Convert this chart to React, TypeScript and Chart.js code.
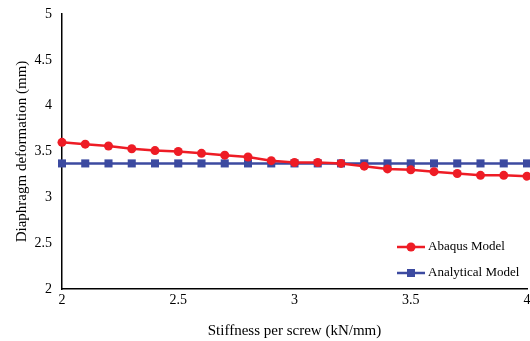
import React, { useEffect, useRef } from "react";
import { Chart, registerables } from "chart.js";

Chart.register(...registerables);

const stiffness = [2.0, 2.1, 2.2, 2.3, 2.4, 2.5, 2.6, 2.7, 2.8, 2.9, 3.0, 3.1, 3.2, 3.3, 3.4, 3.5, 3.6, 3.7, 3.8, 3.9, 4.0];
const abaqus = [3.6, 3.58, 3.56, 3.53, 3.51, 3.5, 3.48, 3.46, 3.44, 3.4, 3.38, 3.38, 3.37, 3.34, 3.31, 3.3, 3.28, 3.26, 3.24, 3.24, 3.23];
const analytical = [3.37, 3.37, 3.37, 3.37, 3.37, 3.37, 3.37, 3.37, 3.37, 3.37, 3.37, 3.37, 3.37, 3.37, 3.37, 3.37, 3.37, 3.37, 3.37, 3.37, 3.37];
const seriesNames = ["Abaqus Model", "Analytical Model"];
const xTitle = "Stiffness per screw (kN/mm)";
const yTitle = "Diaphragm deformation (mm)";

const RED = "#EE1C25";
const BLUE = "#3C4AA0";
const FONT = "'Liberation Serif', 'Times New Roman', serif";

const fmt = (v: any) => String(Math.round(Number(v) * 10) / 10);

const legendPlugin = {
  id: "insideLegend",
  afterDraw(chart: any) {
    const ctx = chart.ctx;
    const area = chart.chartArea;
    const items = [
      { label: seriesNames[0], color: RED, style: "circle" },
      { label: seriesNames[1], color: BLUE, style: "rect" },
    ];
    ctx.save();
    ctx.font = `13px ${FONT}`;
    ctx.textBaseline = "middle";
    ctx.textAlign = "left";
    const x0 = area.left + 335;
    items.forEach((it, i) => {
      const y = area.top + 233 + i * 26;
      ctx.strokeStyle = it.color;
      ctx.lineWidth = 2.5;
      ctx.beginPath();
      ctx.moveTo(x0, y);
      ctx.lineTo(x0 + 28, y);
      ctx.stroke();
      ctx.fillStyle = it.color;
      ctx.beginPath();
      if (it.style === "circle") {
        ctx.arc(x0 + 14, y, 4.5, 0, Math.PI * 2);
      } else {
        ctx.rect(x0 + 10, y - 4, 8, 8);
      }
      ctx.fill();
      ctx.fillStyle = "#000";
      ctx.fillText(it.label, x0 + 31, y);
    });
    ctx.restore();
  },
};

export default function App() {
  const ref = useRef<HTMLCanvasElement>(null);
  useEffect(() => {
    document.body.style.margin = "0";
    const chart = new Chart(ref.current!, {
      type: "line",
      data: {
        datasets: [
          {
            label: seriesNames[0],
            data: stiffness.map((x, i) => ({ x, y: abaqus[i] })),
            borderColor: RED,
            backgroundColor: RED,
            borderWidth: 2.5,
            pointStyle: "circle",
            pointRadius: 4.5,
            pointBorderWidth: 0,
            clip: false,
          },
          {
            label: seriesNames[1],
            data: stiffness.map((x, i) => ({ x, y: analytical[i] })),
            borderColor: BLUE,
            backgroundColor: BLUE,
            borderWidth: 2.5,
            pointStyle: "rect",
            pointRadius: 5.7,
            pointBorderWidth: 0,
            clip: false,
          },
        ],
      },
      options: {
        animation: false,
        responsive: false,
        layout: { autoPadding: false, padding: { top: 14, right: 3, left: 0, bottom: 0 } },
        plugins: { legend: { display: false }, tooltip: { enabled: false } },
        scales: {
          x: {
            type: "linear",
            min: 2,
            max: 4,
            ticks: { stepSize: 0.5, color: "#000", font: { family: FONT, size: 14 }, padding: 3, callback: fmt },
            grid: { display: false, drawTicks: false },
            border: { color: "#000", width: 1.5 },
            title: { display: true, text: xTitle, color: "#000", font: { family: FONT, size: 15 }, padding: { top: 4, bottom: 1 } },
            afterFit: (s: any) => { s.height = 52; s.paddingLeft = 0; s.paddingRight = 0; },
          },
          y: {
            min: 2,
            max: 5,
            ticks: { stepSize: 0.5, color: "#000", font: { family: FONT, size: 14 }, padding: 10, callback: fmt },
            grid: { display: false, drawTicks: false },
            border: { color: "#000", width: 1.5 },
            title: { display: true, text: yTitle, color: "#000", font: { family: FONT, size: 15 }, padding: { top: 13, bottom: 4 } },
            afterFit: (s: any) => { s.width = 62; s.paddingTop = 0; s.paddingBottom = 0; },
          },
        },
      },
      plugins: [legendPlugin],
    } as any);
    return () => chart.destroy();
  }, []);
  return (
    <div style={{ width: 530, height: 341 }}>
      <canvas ref={ref} width={530} height={341} style={{ display: "block" }} />
    </div>
  );
}
